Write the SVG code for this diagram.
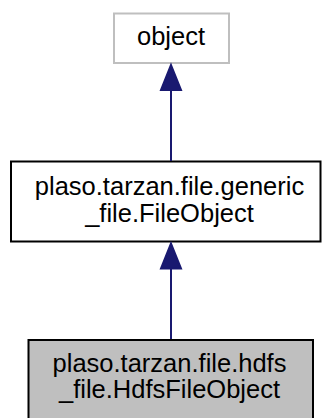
<svg xmlns="http://www.w3.org/2000/svg" width="322" height="418" viewBox="0 0 322 418">
<style>
text{font-family:"Liberation Sans",Arial,sans-serif;font-size:25.5px;fill:#000;text-anchor:middle}
.edge{stroke:#191970;stroke-width:2;fill:none}
.head{fill:#191970;stroke:#191970;stroke-width:2}
</style>
<rect width="322" height="418" fill="#fff"/>
<g id="node_object">
<rect x="114" y="13.5" width="115" height="49.5" fill="#fff" stroke="#bfbfbf" stroke-width="2"/>
<text x="171" y="45">object</text>
</g>
<g id="node_generic">
<rect x="11" y="161.5" width="309.5" height="80" fill="#fff" stroke="#000" stroke-width="2"/>
<text x="169.5" y="195">plaso.tarzan.file.generic</text>
<text x="169.5" y="222">_file.FileObject</text>
</g>
<g id="node_hdfs">
<rect x="28.5" y="340" width="284.5" height="80" fill="#bfbfbf" stroke="#000" stroke-width="2"/>
<text x="169.5" y="372">plaso.tarzan.file.hdfs</text>
<text x="169.5" y="398">_file.HdfsFileObject</text>
</g>
<g id="edges">
<line class="edge" x1="171" y1="91" x2="171" y2="161"/>
<polygon class="head" points="171,65 181,90 161,90"/>
<line class="edge" x1="171" y1="269" x2="171" y2="339"/>
<polygon class="head" points="171,243.5 181,268.5 161,268.5"/>
</g>
</svg>
